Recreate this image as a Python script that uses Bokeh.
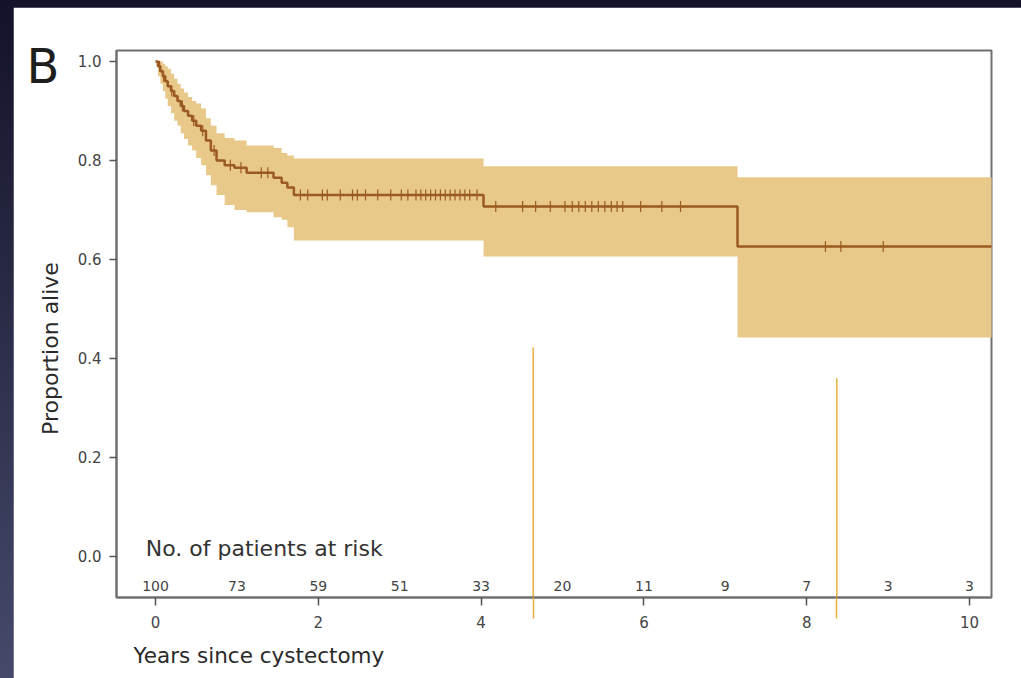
import numpy as np
from bokeh.plotting import figure
from bokeh.models import FixedTicker, LinearAxis, Title
from bokeh.core.properties import value
from bokeh.embed import file_html
from bokeh.resources import INLINE

# ---- Kaplan-Meier data ----
times = [0.0, 0.03, 0.06, 0.09, 0.12, 0.15, 0.19, 0.23, 0.27, 0.31, 0.35, 0.40,
         0.45, 0.50, 0.56, 0.62, 0.68, 0.75, 0.85, 0.97, 1.12, 1.45, 1.55, 1.62,
         1.70, 4.03, 7.15, 10.30]
surv = [1.0, 0.99, 0.98, 0.97, 0.96, 0.95, 0.94, 0.93, 0.92, 0.91, 0.90, 0.89,
        0.88, 0.87, 0.86, 0.84, 0.82, 0.80, 0.79, 0.785, 0.775, 0.765, 0.755, 0.745,
        0.73, 0.707, 0.626, 0.626]
upper = [1.0, 1.0, 1.0, 0.995, 0.99, 0.985, 0.975, 0.965, 0.955, 0.945, 0.937, 0.928,
         0.92, 0.915, 0.905, 0.885, 0.87, 0.855, 0.845, 0.84, 0.83, 0.825, 0.815, 0.81,
         0.804, 0.788, 0.766, 0.766]
lower = [1.0, 0.97, 0.955, 0.94, 0.925, 0.91, 0.895, 0.88, 0.87, 0.855, 0.843, 0.83,
         0.82, 0.805, 0.79, 0.77, 0.75, 0.73, 0.71, 0.70, 0.695, 0.685, 0.68, 0.665,
         0.638, 0.606, 0.442, 0.442]
censor_times = [0.05, 0.10, 0.20, 0.33, 0.47, 0.58, 0.72, 0.92, 1.05, 1.30, 1.38,
                1.78, 1.87, 2.05, 2.11, 2.27, 2.42, 2.48, 2.58, 2.73, 2.89, 3.02, 3.10,
                3.20, 3.26, 3.32, 3.38, 3.44, 3.50, 3.56, 3.62, 3.68, 3.74, 3.80, 3.86, 3.95,
                4.18, 4.51, 4.67, 4.85, 5.03, 5.12, 5.20, 5.28, 5.36, 5.44, 5.52, 5.60,
                5.67, 5.74, 5.96, 6.22, 6.45,
                8.23, 8.42, 8.94]

risk_years = [0, 1, 2, 3, 4, 5, 6, 7, 8, 9, 10]
risk_counts = [100, 73, 59, 51, 33, 20, 11, 9, 7, 3, 3]

x_ticks = [0, 2, 4, 6, 8, 10]
y_ticks = [0.0, 0.2, 0.4, 0.6, 0.8, 1.0]
y_tick_labels = ["0.0", "0.2", "0.4", "0.6", "0.8", "1.0"]

guide_x = [4.64, 8.37]
guide_top = [0.422, 0.36]
guide_bottom = [-0.083, -0.083]

y_label_pos = 0.42      # centre of "Proportion alive"
panel_letter_pos = 0.99  # centre of panel letter "B"

FONT = "DejaVu Sans"
LINE = "#9b5a22"
BAND = "#e9c98a"
GOLD = "#e8b23a"

p = figure(width=1008, height=671, frame_width=875, frame_height=547,
           x_range=(-0.479, 10.27), y_range=(-0.083, 1.022),
           min_border_left=103, min_border_right=30, min_border_top=43,
           min_border_bottom=81, output_backend="svg", toolbar_location=None,
           background_fill_color="white", border_fill_color="white")
p.xgrid.visible = False
p.ygrid.visible = False
p.outline_line_color = "#707070"
p.outline_line_width = 2

# confidence band
p.varea_step(x=times, y1=lower, y2=upper, step_mode="after", fill_color=BAND, fill_alpha=1.0)
# survival curve
p.step(times, surv, mode="after", line_color=LINE, line_width=2.5)

# censor marks
t_arr = np.array(times)
s_arr = np.array(surv)
c_arr = np.array(censor_times)
cy = s_arr[np.searchsorted(t_arr, c_arr, side="right") - 1]
p.scatter(c_arr, cy, marker="dash", angle=np.pi / 2, size=11, line_color=LINE, line_width=1.2)

# thin gold guide lines (inside frame)
p.segment(x0=guide_x, y0=guide_top, x1=guide_x, y1=guide_bottom, line_color=GOLD, line_width=1.5)

# numbers at risk
p.text(x=risk_years, y=[-0.059] * len(risk_years), text=[str(c) for c in risk_counts],
       text_align="center", text_baseline="middle", text_font=value(FONT),
       text_font_size="14px", text_color="#444444")
p.text(x=[-0.12], y=[0.016], text=["No. of patients at risk"], text_align="left",
       text_baseline="middle", text_font=value(FONT), text_font_size="22px",
       text_color="#333333")

# axes
for ax in (p.xaxis[0], p.yaxis[0]):
    ax.axis_line_color = "#707070"
    ax.axis_line_width = 2
    ax.major_tick_line_color = "#555555"
    ax.major_tick_line_width = 1.5
    ax.major_tick_in = 0
    ax.major_label_text_font = FONT
    ax.major_label_text_font_size = "15px"
    ax.major_label_text_color = "#444444"

p.xaxis.ticker = FixedTicker(ticks=x_ticks, minor_ticks=guide_x)
p.xaxis.major_tick_out = 8
p.xaxis.major_label_standoff = -3
p.xaxis.minor_tick_line_color = GOLD
p.xaxis.minor_tick_line_width = 1.5
p.xaxis.minor_tick_in = 0
p.xaxis.minor_tick_out = 21

p.yaxis.ticker = FixedTicker(ticks=y_ticks)
p.yaxis.major_label_overrides = {t: l for t, l in zip(y_ticks, y_tick_labels)}
p.yaxis.major_tick_out = 7
p.yaxis.major_label_standoff = 8
p.yaxis.minor_tick_line_color = None


def text_axis(pos, label, size, color, standoff, orientation):
    ax = LinearAxis(ticker=FixedTicker(ticks=[pos], minor_ticks=[]),
                    major_label_overrides={pos: label})
    ax.axis_line_color = None
    ax.major_tick_line_color = None
    ax.minor_tick_line_color = None
    ax.major_tick_out = 0
    ax.major_tick_in = 0
    ax.major_label_standoff = standoff
    ax.major_label_orientation = orientation
    ax.major_label_text_font = FONT
    ax.major_label_text_font_size = size
    ax.major_label_text_color = color
    return ax


p.add_layout(text_axis(y_label_pos, "Proportion alive", "22px", "#2a2a2a", 11, "vertical"), "left")
p.add_layout(text_axis(panel_letter_pos, "B", "48px", "#1e1e1e", -24, "horizontal"), "left")

p.add_layout(Title(text="Years since cystectomy", align="left", offset=17,
                   vertical_align="top", standoff=24, text_font=FONT,
                   text_font_size="21.5px", text_font_style="normal",
                   text_color="#2a2a2a"), "below")

html = file_html(p, INLINE)
style = ("<style>html{margin:0;padding:0;overflow:hidden;}"
         "body{margin:7px 0 0 13px;padding:0;overflow:hidden;"
         "background:linear-gradient(#13122a,#46496a);min-height:671px;}</style></head>")
html = html.replace("</head>", style, 1)
open("out.html", "w").write(html)
